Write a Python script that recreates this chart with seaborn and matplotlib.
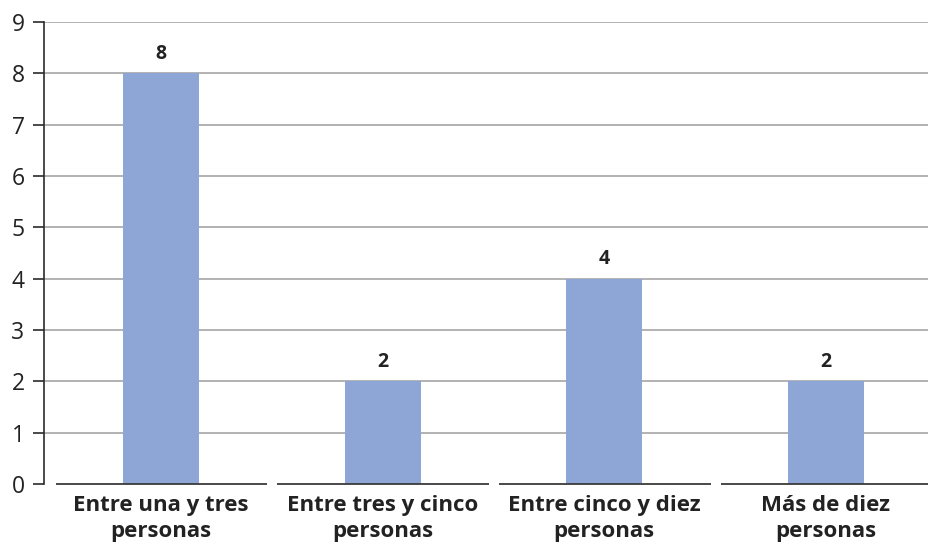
import matplotlib
matplotlib.use("Agg")
import matplotlib.pyplot as plt
import seaborn as sns
import pandas as pd

categories = ["Entre una y tres\npersonas", "Entre tres y cinco\npersonas",
              "Entre cinco y diez\npersonas", "Más de diez\npersonas"]
values = [8, 2, 4, 2]
y_ticks = list(range(0, 10))

sns.set_style("white")
plt.rcParams["font.family"] = ["Open Sans", "DejaVu Sans"]

W, H = 929, 550
fig = plt.figure(figsize=(W / 100, H / 100), dpi=100)
ax = fig.add_axes([44 / W, 66 / H, 1 - 44 / W, 462 / H])

df = pd.DataFrame({"cat": categories, "val": values})
sns.barplot(data=df, x="cat", y="val", color="#8EA6D6", saturation=1,
            width=0.343, linewidth=0, ax=ax, zorder=3)

ax.set_ylim(0, 9)
ax.set_xlim(-0.527, 3.465)
ax.set_yticks(y_ticks)
ax.set_xlabel("")
ax.set_ylabel("")

# horizontal gridlines above zero
for t in y_ticks[1:]:
    ax.axhline(t, color="#a6a6a6", lw=1.2, zorder=1)

# baseline drawn as one segment per category
for i in range(len(categories)):
    ax.hlines(0, i - 0.5 + 0.025, i + 0.5 - 0.02, color="#3a3a3a", lw=1.3,
              zorder=4, clip_on=False)

for s in ["top", "right", "bottom"]:
    ax.spines[s].set_visible(False)
ax.spines["left"].set_color("#2b2b2b")
ax.spines["left"].set_linewidth(1.2)

ax.tick_params(axis="y", which="major", direction="out", length=8, width=1.2,
               color="#2b2b2b", labelsize=16.5, labelcolor="#222222", pad=6, left=True)
ax.tick_params(axis="x", length=0, labelsize=16, labelcolor="#222222", pad=8)
for lbl in ax.get_xticklabels():
    lbl.set_fontweight("bold")
    lbl.set_linespacing(1.3)

for c in ax.containers:
    ax.bar_label(c, labels=[str(v) for v in values], padding=7,
                 fontsize=14, fontweight="bold", color="#222222")

fig.savefig("out.png", dpi=100)
